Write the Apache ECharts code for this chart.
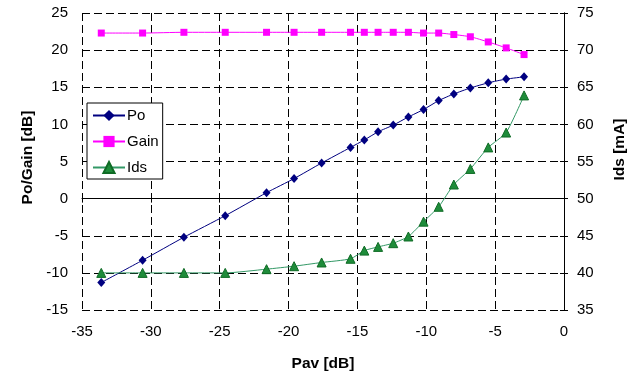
<!DOCTYPE html>
<html><head><meta charset="utf-8">
<script src="https://cdn.jsdelivr.net/npm/echarts@6/dist/echarts.min.js"></script>
<style>html,body{margin:0;padding:0;background:#fff}#c{width:636px;height:380px}</style>
</head><body><div id="c"></div>
<script>
// Data
const pav  = [-33.6, -30.6, -27.6, -24.6, -21.6, -19.6, -17.6, -15.5, -14.5, -13.5, -12.4, -11.3, -10.2, -9.1, -8.0, -6.8, -5.5, -4.2, -2.9];
const po   = [-11.3, -8.3, -5.2, -2.3, 0.8, 2.7, 4.8, 6.9, 7.9, 9.0, 9.9, 11.0, 12.0, 13.2, 14.1, 14.9, 15.6, 16.1, 16.4];
const gain = [22.3, 22.3, 22.4, 22.4, 22.4, 22.4, 22.4, 22.4, 22.4, 22.4, 22.4, 22.4, 22.3, 22.3, 22.1, 21.8, 21.1, 20.3, 19.4];
const ids  = [40, 40, 40, 40, 40.5, 40.9, 41.4, 41.9, 43.0, 43.5, 44.0, 44.9, 46.9, 48.9, 51.9, 54.0, 56.9, 58.9, 63.9];
const seriesNames = ['Po', 'Gain', 'Ids'];
const xTitle = 'Pav [dB]';
const yLeftTitle = 'Po/Gain [dB]';
const yRightTitle = 'Ids [mA]';

const FONT = "'Liberation Sans', Arial, sans-serif";
const pair = (xs, ys) => xs.map((x, i) => [x, ys[i]]);
const gridDash = { show: true, lineStyle: { color: '#000', width: 1, type: [8, 4] } };
const labelStyle = { color: '#000', fontFamily: FONT, fontSize: 15 };
const titleStyle = { color: '#000', fontFamily: FONT, fontSize: 15.5, fontWeight: 'bold' };

const chart = echarts.init(document.getElementById('c'), null, { renderer: 'canvas' });
chart.setOption({
  animation: false,
  backgroundColor: '#fff',
  grid: { left: 82, right: 66, top: 13, bottom: 70, containLabel: false },
  legend: {
    data: seriesNames,
    orient: 'vertical',
    left: 87, top: 103,
    padding: [5, 4, 4, 5],
    itemWidth: 32, itemHeight: 14, itemGap: 11,
    borderColor: '#000', borderWidth: 1, backgroundColor: '#fff',
    textStyle: { color: '#000', fontFamily: FONT, fontSize: 15, padding: [0, 0, 0, -3] }
  },
  xAxis: [{
    type: 'value', min: -35, max: 0, interval: 5,
    name: xTitle, nameLocation: 'middle', nameGap: 46, nameTextStyle: titleStyle,
    axisLine: { show: true, lineStyle: { color: '#000', width: 1 } },
    axisTick: { show: true, length: 4, lineStyle: { color: '#000' } },
    axisLabel: Object.assign({ margin: 14 }, labelStyle),
    splitLine: gridDash
  }, {
    type: 'value', min: -35, max: 0, interval: 5, position: 'bottom',
    axisLine: { show: false }, axisLabel: { show: false }, splitLine: { show: false },
    axisTick: { show: true, inside: true, length: 4, lineStyle: { color: '#000' } }
  }],
  yAxis: [{
    type: 'value', min: -15, max: 25, interval: 5, position: 'left',
    name: yLeftTitle, nameLocation: 'middle', nameRotate: 90, nameGap: 46,
    nameTextStyle: Object.assign({ padding: [0, 0, 0, 8] }, titleStyle),
    axisLine: { show: true, lineStyle: { color: '#000', width: 1 } },
    axisTick: { show: true, length: 4, lineStyle: { color: '#000' } },
    axisLabel: Object.assign({ margin: 14 }, labelStyle),
    splitLine: gridDash
  }, {
    type: 'value', min: 35, max: 75, interval: 5, position: 'right',
    name: yRightTitle, nameLocation: 'middle', nameRotate: 90, nameGap: 48,
    nameTextStyle: Object.assign({ padding: [0, 0, 0, 24] }, titleStyle),
    axisLine: { show: true, lineStyle: { color: '#000', width: 1 } },
    axisTick: { show: true, length: 4, lineStyle: { color: '#000' } },
    axisLabel: Object.assign({ margin: 13 }, labelStyle),
    splitLine: { show: false }
  }, {
    type: 'value', min: -15, max: 25, interval: 5, position: 'left',
    axisLine: { show: false }, axisLabel: { show: false }, splitLine: { show: false },
    axisTick: { show: true, inside: true, length: 4, lineStyle: { color: '#000' } }
  }, {
    type: 'value', min: 35, max: 75, interval: 5, position: 'right',
    axisLine: { show: false }, axisLabel: { show: false }, splitLine: { show: false },
    axisTick: { show: true, inside: true, length: 4, lineStyle: { color: '#000' } }
  }],
  series: [{
    name: seriesNames[0], type: 'line', xAxisIndex: 0, yAxisIndex: 0,
    data: pair(pav, po), smooth: 0.2,
    symbol: 'diamond', symbolSize: [8, 9],
    lineStyle: { color: '#000080', width: 1 },
    itemStyle: { color: '#000080' }
  }, {
    name: seriesNames[1], type: 'line', xAxisIndex: 0, yAxisIndex: 0,
    data: pair(pav, gain), smooth: 0.2,
    symbol: 'rect', symbolSize: 7,
    lineStyle: { color: '#ff00ff', width: 1 },
    itemStyle: { color: '#ff00ff' }
  }, {
    name: seriesNames[2], type: 'line', xAxisIndex: 0, yAxisIndex: 1,
    data: pair(pav, ids), smooth: 0.2,
    symbol: 'triangle', symbolSize: 9,
    lineStyle: { color: '#339966', width: 1 },
    itemStyle: { color: '#1e8c3a', borderColor: '#0f6b25', borderWidth: 1 }
  }]
});
</script>
</body></html>
